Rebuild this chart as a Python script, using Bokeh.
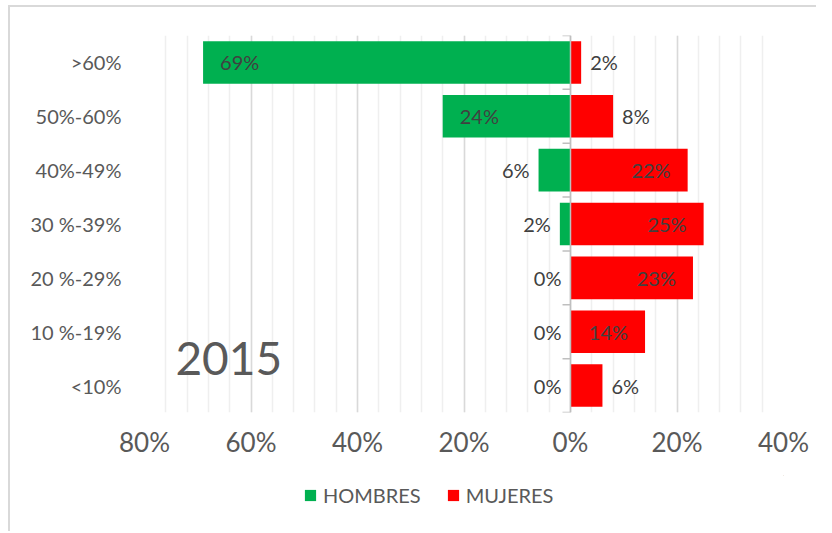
from bokeh.plotting import figure
from bokeh.layouts import column
from bokeh.models import FactorRange, FixedTicker, Label, Legend, LegendItem
from bokeh.core.properties import value
from bokeh.embed import file_html
from bokeh.resources import INLINE

# ---- data ----
categories = [">60%", "50%-60%", "40%-49%", "30 %-39%", "20 %-29%", "10 %-19%", "<10%"]
hombres = [69, 24, 6, 2, 0, 0, 0]
mujeres = [2, 8, 22, 25, 23, 14, 6]
x_ticks = [-80, -60, -40, -20, 0, 20, 40]
x_tick_labels = ["80%", "60%", "40%", "20%", "0%", "20%", "40%"]
series_names = ["HOMBRES", "MUJERES"]
year_label = "2015"

# ---- style ----
FONT = "Lato"
GREEN = "#00B050"
RED = "#FF0000"
LABEL_COLOR = "#404040"
AXIS_TEXT = "#595959"
INSIDE_THRESHOLD = 10

p = figure(width=806, height=468,
           y_range=FactorRange(factors=categories[::-1], range_padding=0),
           x_range=(-80, 40),
           output_backend="svg", toolbar_location=None,
           min_border_left=134, min_border_right=33,
           min_border_top=28, min_border_bottom=63)
p.outline_line_color = None
p.background_fill_color = "white"
p.border_fill_color = "white"

# grid
p.xaxis.ticker = FixedTicker(ticks=x_ticks, minor_ticks=list(range(-80, 41, 4)))
p.xgrid.grid_line_color = "#d9d9d9"
p.xgrid.grid_line_width = 1.5
p.xgrid.minor_grid_line_color = "#efefef"
p.xgrid.minor_grid_line_width = 1.5
p.ygrid.grid_line_color = None

# axes
p.xaxis.major_label_overrides = dict(zip(x_ticks, x_tick_labels))
for ax in (p.xaxis, p.yaxis):
    ax.axis_line_color = None
    ax.major_tick_line_color = None
    ax.minor_tick_line_color = None
    ax.major_label_text_font = FONT
    ax.major_label_text_color = AXIS_TEXT
p.xaxis.major_label_text_font_size = "26px"
p.xaxis.major_label_standoff = 7
p.yaxis.major_label_text_font_size = "20px"
p.yaxis.major_label_standoff = 17

# bars
hb = p.hbar(y=categories, left=[-v for v in hombres], right=0, height=0.79,
            fill_color=GREEN, line_color=None)
mj = p.hbar(y=categories, left=0, right=mujeres, height=0.79,
            fill_color=RED, line_color=None)

# vertical axis at zero with category ticks
n = len(categories)
p.segment(x0=[0], y0=[0], x1=[0], y1=[n], line_color="#bfbfbf", line_width=1.5)
p.segment(x0=[-1.5] * (n + 1), x1=[0] * (n + 1), y0=list(range(n + 1)),
          y1=list(range(n + 1)), line_color="#bfbfbf", line_width=1.5)

# data labels
def add_labels(vals, sign, inside):
    idx = [i for i, v in enumerate(vals) if (v >= INSIDE_THRESHOLD) == inside]
    if not idx:
        return
    if sign < 0:
        align = "left" if inside else "right"
        off = 17 if inside else -9
    else:
        align = "right" if inside else "left"
        off = -17 if inside else 9
    p.text(x=[sign * vals[i] for i in idx], y=[categories[i] for i in idx],
           text=[f"{vals[i]}%" for i in idx], text_align=align,
           text_baseline="middle", x_offset=off,
           text_font=value(FONT), text_font_size="20px", text_color=LABEL_COLOR)

add_labels(hombres, -1, True)
add_labels(hombres, -1, False)
add_labels(mujeres, 1, True)
add_labels(mujeres, 1, False)

# year label
p.add_layout(Label(x=-74.2, y=1.0, text=year_label, text_font=FONT,
                   text_font_size="46px", text_baseline="middle",
                   text_color=AXIS_TEXT))

# legend strip (separate small figure under the chart)
lg = figure(width=806, height=56, output_backend="svg", toolbar_location=None,
            x_axis_type=None, y_axis_type=None, min_border=0,
            x_range=(0, 1), y_range=(0, 1))
lg.outline_line_color = None
lg.xgrid.grid_line_color = None
lg.ygrid.grid_line_color = None
# swatch renderers sit outside the visible range; only their legend glyphs show
lg_h = lg.hbar(y=[5], left=[5], right=[6], height=1, fill_color=GREEN, line_color=None)
lg_m = lg.hbar(y=[5], left=[5], right=[6], height=1, fill_color=RED, line_color=None)
legend = Legend(items=[LegendItem(label=series_names[0], renderers=[lg_h]),
                       LegendItem(label=series_names[1], renderers=[lg_m])],
                location=(159, 24), orientation="horizontal",
                glyph_width=14, glyph_height=14, label_standoff=6, spacing=25,
                padding=0, margin=0, border_line_color=None,
                background_fill_alpha=0, label_text_font=FONT,
                label_text_font_size="20px", label_text_color=AXIS_TEXT)
lg.add_layout(legend)

layout = column(p, lg, spacing=0,
                styles={"border-left": "2px solid #d9d9d9",
                        "border-top": "2px solid #d9d9d9",
                        "margin-left": "8px", "margin-top": "5px"})
open("out.html", "w").write(file_html(layout, INLINE))
